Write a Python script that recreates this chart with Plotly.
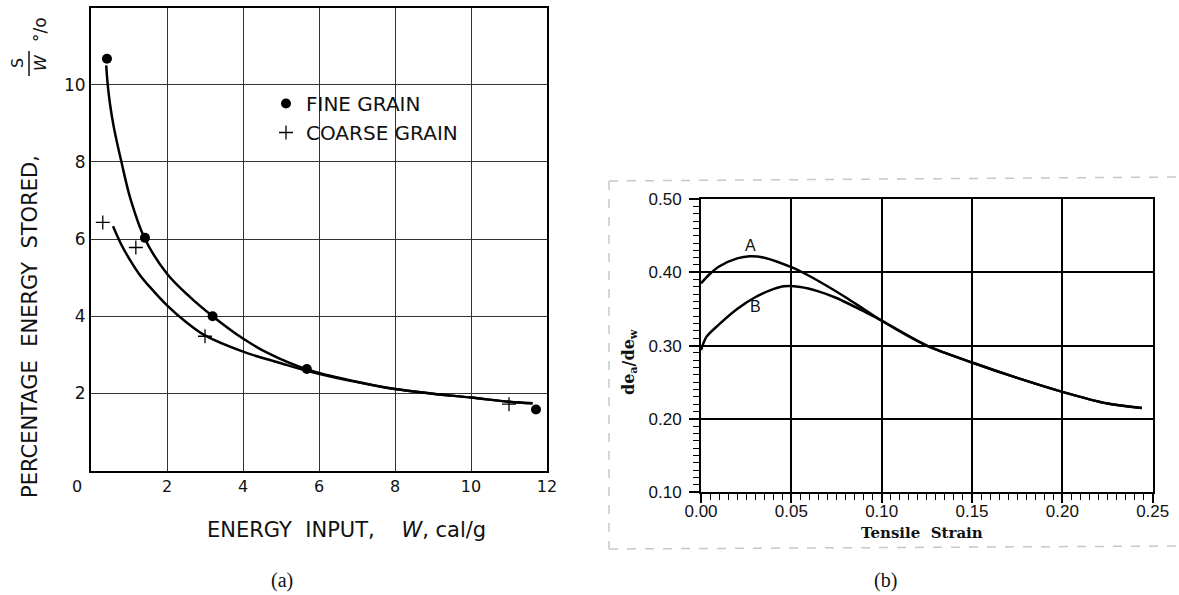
import plotly.graph_objects as go

W_PX, H_PX = 1179, 595

# ---------------- data: panel (a) ----------------
fine_x = [0.42, 1.42, 3.2, 5.68, 11.71]
fine_y = [10.67, 6.03, 4.0, 2.63, 1.58]
coarse_x = [0.31, 1.18, 3.0, 11.0]
coarse_y = [6.43, 5.78, 3.48, 1.72]

fine_curve_x = [0.40, 0.44, 0.50, 0.60, 0.80, 1.05, 1.42, 2.00, 2.60, 3.20, 4.00, 4.70, 5.68, 7.00, 8.00, 9.00, 10.00, 11.00, 11.62]
fine_curve_y = [10.5, 10.0, 9.5, 8.9, 8.0, 7.0, 6.0, 5.1, 4.5, 4.0, 3.42, 3.02, 2.62, 2.30, 2.11, 1.99, 1.89, 1.78, 1.74]
coarse_curve_x = [0.58, 0.80, 1.00, 1.30, 1.60, 2.00, 2.50, 3.00, 4.00, 5.00, 5.70, 7.00, 8.00, 9.00, 10.00, 11.00, 11.62]
coarse_curve_y = [6.33, 5.85, 5.50, 5.05, 4.70, 4.28, 3.85, 3.50, 3.08, 2.78, 2.58, 2.29, 2.11, 1.99, 1.89, 1.78, 1.74]

a_xticks = [2, 4, 6, 8, 10, 12]
a_yticks = [2, 4, 6, 8, 10]

# ---------------- data: panel (b) ----------------
curveA_x = [0.0, 0.005, 0.01, 0.02, 0.027, 0.035, 0.05, 0.06, 0.07, 0.08, 0.09, 0.10, 0.125, 0.15, 0.175, 0.20, 0.225, 0.244]
curveA_y = [0.385, 0.398, 0.408, 0.419, 0.422, 0.420, 0.407, 0.395, 0.381, 0.366, 0.350, 0.334, 0.300, 0.277, 0.256, 0.237, 0.221, 0.215]
curveB_x = [0.0, 0.003, 0.01, 0.02, 0.03, 0.04, 0.046, 0.055, 0.065, 0.075, 0.09, 0.10, 0.125, 0.15, 0.175, 0.20, 0.225, 0.244]
curveB_y = [0.294, 0.312, 0.329, 0.350, 0.366, 0.377, 0.381, 0.380, 0.374, 0.365, 0.347, 0.334, 0.300, 0.277, 0.256, 0.237, 0.221, 0.215]
labelA = (0.0273, 0.436)
labelB = (0.0304, 0.354)


def px(x):
    return x / W_PX


def py(y):
    return 1 - y / H_PX


fig = go.Figure()

# panel (a) curves
fig.add_trace(go.Scatter(x=fine_curve_x, y=fine_curve_y, mode="lines", line=dict(color="black", width=2.5, shape="spline"),
                         showlegend=False, xaxis="x", yaxis="y"))
fig.add_trace(go.Scatter(x=coarse_curve_x, y=coarse_curve_y, mode="lines", line=dict(color="black", width=2.5, shape="spline"),
                         showlegend=False, xaxis="x", yaxis="y"))
fig.add_trace(go.Scatter(x=fine_x, y=fine_y, mode="markers", name="FINE GRAIN",
                         marker=dict(symbol="circle", size=10, color="black"), xaxis="x", yaxis="y"))
fig.add_trace(go.Scatter(x=coarse_x, y=coarse_y, mode="markers", name="COARSE GRAIN",
                         marker=dict(symbol="cross-thin", size=10, color="black", line=dict(color="black", width=1.3)),
                         xaxis="x", yaxis="y"))

# panel (b) curves
fig.add_trace(go.Scatter(x=curveA_x, y=curveA_y, mode="lines", line=dict(color="black", width=2.5, shape="spline", smoothing=0.8),
                         showlegend=False, xaxis="x2", yaxis="y2"))
fig.add_trace(go.Scatter(x=curveB_x, y=curveB_y, mode="lines", line=dict(color="black", width=2.5, shape="spline", smoothing=0.8),
                         showlegend=False, xaxis="x2", yaxis="y2"))

tick_a = dict(family="DejaVu Sans", size=16, color="#111")
tick_b = dict(family="Liberation Sans", size=17, color="#111")

fig.update_layout(
    width=W_PX, height=H_PX,
    margin=dict(l=0, r=0, t=0, b=0, pad=0, autoexpand=False),
    paper_bgcolor="white", plot_bgcolor="white",
    xaxis=dict(domain=[px(91), px(547)], range=[0, 12], tickvals=a_xticks, ticktext=[str(v) for v in a_xticks],
               showgrid=True, gridcolor="#333", gridwidth=1, zeroline=False, automargin=False,
               showline=True, mirror=True, linecolor="black", linewidth=2, ticks="",
               tickfont=tick_a, ticklabelstandoff=0, anchor="y"),
    yaxis=dict(domain=[py(470.5), py(7.5)], range=[0, 12], tickvals=a_yticks, ticktext=[str(v) for v in a_yticks],
               showgrid=True, gridcolor="#333", gridwidth=1, zeroline=False, automargin=False,
               showline=True, mirror=True, linecolor="black", linewidth=2, ticks="",
               tickfont=dict(family="DejaVu Sans", size=17, color="#111"), ticklabelstandoff=0, anchor="x"),
    xaxis2=dict(domain=[px(701), px(1152.7)], range=[0, 0.25], dtick=0.05, tick0=0, tickformat=".2f",
                showgrid=True, gridcolor="black", gridwidth=1.5, zeroline=False, automargin=False,
                showline=True, mirror=True, linecolor="black", linewidth=2,
                ticks="outside", ticklen=9, tickwidth=1.5, tickcolor="black",
                minor=dict(dtick=0.005, ticks="outside", ticklen=6, tickwidth=1.3, tickcolor="black", showgrid=False),
                tickfont=tick_b, ticklabelstandoff=-7, anchor="y2"),
    yaxis2=dict(domain=[py(492.3), py(199)], range=[0.1, 0.5], dtick=0.1, tick0=0.1, tickformat=".2f",
                showgrid=True, gridcolor="black", gridwidth=1.5, zeroline=False, automargin=False,
                showline=True, mirror=True, linecolor="black", linewidth=2,
                ticks="outside", ticklen=10, tickwidth=1.5, tickcolor="black",
                minor=dict(dtick=0.01, ticks="outside", ticklen=6, tickwidth=1.3, tickcolor="black", showgrid=False),
                tickfont=tick_b, ticklabelstandoff=4, anchor="x2"),
    legend=dict(x=px(266), y=py(84), xanchor="left", yanchor="top", bgcolor="rgba(0,0,0,0)",
                font=dict(family="DejaVu Sans", size=20, color="#111"), itemwidth=30, tracegroupgap=2),
)


def note(x, y, text, font, angle=0, xref="paper", yref="paper"):
    if xref == "paper":
        x = px(x)
    if yref == "paper":
        y = py(y)
    return dict(x=x, y=y, xref=xref, yref=yref, text=text, textangle=angle, showarrow=False,
                xanchor="center", yanchor="middle", font=font)


lettering = lambda s: dict(family="DejaVu Sans", size=s, color="#111")
ann = [
    note(30, 327, "PERCENTAGE\u00a0\u00a0ENERGY\u00a0\u00a0STORED,", lettering(21), -90),
    note(18, 63, "S", lettering(16), -90),
    note(41, 63, "<i>W</i>", lettering(16), -90),
    note(40, 30, "°/o", lettering(17), -90),
    note(346, 530, "ENERGY\u00a0\u00a0INPUT,\u00a0\u00a0\u00a0\u00a0<i>W</i>,\u00a0cal/g", lettering(21)),
    note(77, 486, "0", tick_a),
    note(labelA[0], labelA[1], "A", dict(family="Liberation Sans", size=16, color="#111"), 0, "x2", "y2"),
    note(labelB[0], labelB[1], "B", dict(family="Liberation Sans", size=16, color="#111"), 0, "x2", "y2"),
    note(630, 362, "<b>de<sub>a</sub>/de<sub>w</sub></b>", dict(family="DejaVu Serif", size=16, color="#111"), -90),
    note(922, 533, "<b>Tensile\u00a0\u00a0Strain</b>", dict(family="DejaVu Serif", size=15, color="#111")),
    note(282, 580, "(a)", dict(family="Liberation Serif", size=20, color="#111")),
    note(885, 580, "(b)", dict(family="Liberation Serif", size=20, color="#111")),
]
fig.update_layout(annotations=ann)

shapes = [
    # fraction bar of S/W
    dict(type="line", xref="paper", yref="paper", x0=px(29), x1=px(29), y0=py(51), y1=py(76),
         line=dict(color="#111", width=1.5)),
    # light dashed frame around panel (b)
    dict(type="line", xref="paper", yref="paper", x0=px(609), x1=px(1179), y0=py(181), y1=py(177),
         line=dict(color="#c8c8c8", width=1.5, dash="dash")),
    dict(type="line", xref="paper", yref="paper", x0=px(609), x1=px(609), y0=py(181), y1=py(549),
         line=dict(color="#c8c8c8", width=1.5, dash="dash")),
    dict(type="line", xref="paper", yref="paper", x0=px(609), x1=px(1179), y0=py(549), y1=py(546),
         line=dict(color="#c8c8c8", width=1.5, dash="dash")),
]
fig.update_layout(shapes=shapes)

fig.write_html("out.html")
